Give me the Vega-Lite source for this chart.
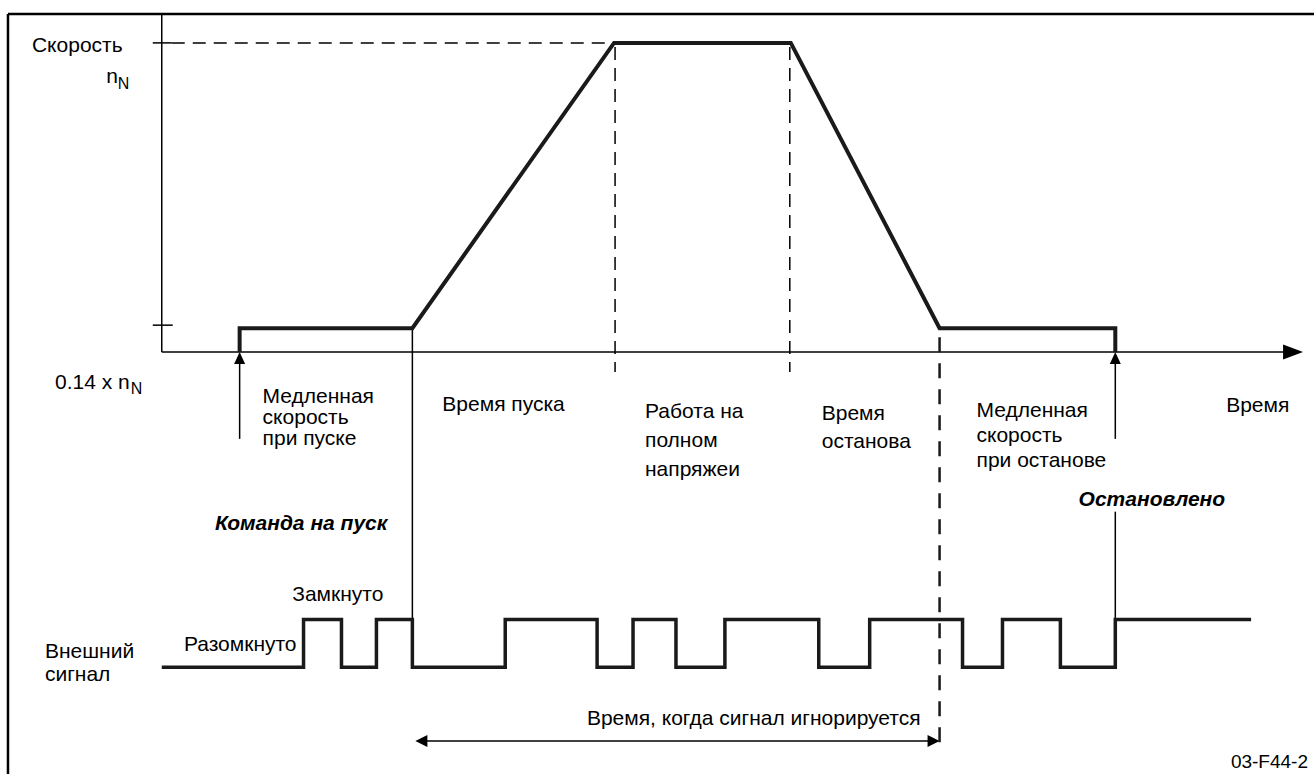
{
  "$schema": "https://vega.github.io/schema/vega-lite/v6.json",
  "width": 1316,
  "height": 776,
  "autosize": {"type": "fit", "contains": "padding"},
  "padding": 0,
  "background": "white",
  "config": {"view": {"stroke": null}, "text": {"font": "Liberation Sans", "color": "black", "baseline": "alphabetic"}},
  "datasets": {
    "segs": [
      {"x": 8, "y": 14, "x2": 1316, "y2": 14, "kind": "frame"},
      {"x": 8, "y": 14, "x2": 8, "y2": 776, "kind": "frame"},
      {"x": 162, "y": 14, "x2": 162, "y2": 353, "kind": "thin"},
      {"x": 162, "y": 353, "x2": 1288, "y2": 353, "kind": "thin"},
      {"x": 153, "y": 43, "x2": 172, "y2": 43, "kind": "thin"},
      {"x": 153, "y": 326, "x2": 173, "y2": 326, "kind": "thin"},
      {"x": 240, "y": 440, "x2": 240, "y2": 362, "kind": "thin"},
      {"x": 1117, "y": 440, "x2": 1117, "y2": 362, "kind": "thin"},
      {"x": 413, "y": 329, "x2": 413, "y2": 621, "kind": "thin"},
      {"x": 1117, "y": 513, "x2": 1117, "y2": 621, "kind": "thin"},
      {"x": 424, "y": 743, "x2": 933, "y2": 743, "kind": "thin"},
      {"x": 172, "y": 43, "x2": 615, "y2": 43, "kind": "dash"},
      {"x": 616, "y": 47, "x2": 616, "y2": 373, "kind": "dash"},
      {"x": 791, "y": 47, "x2": 791, "y2": 373, "kind": "dash"},
      {"x": 941, "y": 338, "x2": 941, "y2": 745, "kind": "bigdash"}
    ],
    "lines": [
      {"series": "speed", "i": 1, "x": 240, "y": 353},
      {"series": "speed", "i": 2, "x": 240, "y": 329},
      {"series": "speed", "i": 3, "x": 413, "y": 329},
      {"series": "speed", "i": 4, "x": 615, "y": 43},
      {"series": "speed", "i": 5, "x": 792, "y": 43},
      {"series": "speed", "i": 6, "x": 941, "y": 329},
      {"series": "speed", "i": 7, "x": 1117, "y": 329},
      {"series": "speed", "i": 8, "x": 1117, "y": 353},
      {"series": "signal", "i": 1, "x": 162, "y": 669},
      {"series": "signal", "i": 2, "x": 304, "y": 669},
      {"series": "signal", "i": 3, "x": 304, "y": 621},
      {"series": "signal", "i": 4, "x": 342, "y": 621},
      {"series": "signal", "i": 5, "x": 342, "y": 669},
      {"series": "signal", "i": 6, "x": 377, "y": 669},
      {"series": "signal", "i": 7, "x": 377, "y": 621},
      {"series": "signal", "i": 8, "x": 413, "y": 621},
      {"series": "signal", "i": 9, "x": 413, "y": 669},
      {"series": "signal", "i": 10, "x": 506, "y": 669},
      {"series": "signal", "i": 11, "x": 506, "y": 621},
      {"series": "signal", "i": 12, "x": 598, "y": 621},
      {"series": "signal", "i": 13, "x": 598, "y": 669},
      {"series": "signal", "i": 14, "x": 634, "y": 669},
      {"series": "signal", "i": 15, "x": 634, "y": 621},
      {"series": "signal", "i": 16, "x": 677, "y": 621},
      {"series": "signal", "i": 17, "x": 677, "y": 669},
      {"series": "signal", "i": 18, "x": 726, "y": 669},
      {"series": "signal", "i": 19, "x": 726, "y": 621},
      {"series": "signal", "i": 20, "x": 820, "y": 621},
      {"series": "signal", "i": 21, "x": 820, "y": 669},
      {"series": "signal", "i": 22, "x": 871, "y": 669},
      {"series": "signal", "i": 23, "x": 871, "y": 621},
      {"series": "signal", "i": 24, "x": 964, "y": 621},
      {"series": "signal", "i": 25, "x": 964, "y": 669},
      {"series": "signal", "i": 26, "x": 1004, "y": 669},
      {"series": "signal", "i": 27, "x": 1004, "y": 621},
      {"series": "signal", "i": 28, "x": 1062, "y": 621},
      {"series": "signal", "i": 29, "x": 1062, "y": 669},
      {"series": "signal", "i": 30, "x": 1117, "y": 669},
      {"series": "signal", "i": 31, "x": 1117, "y": 621},
      {"series": "signal", "i": 32, "x": 1253, "y": 621}
    ],
    "heads": [
      {"kind": "axis", "x": 1295, "y": 353},
      {"kind": "up", "x": 240, "y": 359},
      {"kind": "up", "x": 1117, "y": 359},
      {"kind": "left", "x": 422, "y": 743},
      {"kind": "right", "x": 935, "y": 743}
    ],
    "labels": [
      {"st": "L", "x": 32, "y": 52, "label": "Скорость"},
      {"st": "L", "x": 263, "y": 404, "label": "Медленная"},
      {"st": "L", "x": 263, "y": 425, "label": "скорость"},
      {"st": "L", "x": 263, "y": 446, "label": "при пуске"},
      {"st": "L", "x": 443, "y": 412, "label": "Время пуска"},
      {"st": "L", "x": 646, "y": 419, "label": "Работа на"},
      {"st": "L", "x": 646, "y": 448, "label": "полном"},
      {"st": "L", "x": 646, "y": 477, "label": "напряжеи"},
      {"st": "L", "x": 823, "y": 421, "label": "Время"},
      {"st": "L", "x": 823, "y": 449, "label": "останова"},
      {"st": "L", "x": 978, "y": 418, "label": "Медленная"},
      {"st": "L", "x": 978, "y": 443, "label": "скорость"},
      {"st": "L", "x": 978, "y": 468, "label": "при останове"},
      {"st": "L", "x": 1228, "y": 413, "label": "Время"},
      {"st": "L", "x": 45, "y": 660, "label": "Внешний"},
      {"st": "L", "x": 45, "y": 683, "label": "сигнал"},
      {"st": "R", "x": 118, "y": 83, "label": "n"},
      {"st": "R", "x": 130, "y": 390, "label": "0.14 x n"},
      {"st": "R", "x": 384, "y": 603, "label": "Замкнуто"},
      {"st": "R", "x": 297, "y": 653, "label": "Разомкнуто"},
      {"st": "R", "x": 922, "y": 727, "label": "Время, когда сигнал игнорируется"},
      {"st": "S", "x": 118, "y": 89, "label": "N"},
      {"st": "S", "x": 131, "y": 395, "label": "N"},
      {"st": "BR", "x": 388, "y": 531, "label": "Команда на пуск"},
      {"st": "BR", "x": 1227, "y": 507, "label": "Остановлено"},
      {"st": "C", "x": 1310, "y": 770, "label": "03-F44-2"}
    ]
  },
  "encoding": {
    "x": {"field": "x", "type": "quantitative", "scale": {"domain": [0, 1316], "nice": false, "zero": false}, "axis": null},
    "y": {"field": "y", "type": "quantitative", "scale": {"domain": [0, 776], "nice": false, "zero": false, "reverse": true}, "axis": null}
  },
  "layer": [
    {
      "data": {"name": "segs"},
      "transform": [{"filter": "datum.kind === 'frame'"}],
      "mark": {"type": "rule", "color": "black", "strokeWidth": 2.5},
      "encoding": {"x2": {"field": "x2"}, "y2": {"field": "y2"}}
    },
    {
      "data": {"name": "segs"},
      "transform": [{"filter": "datum.kind === 'thin'"}],
      "mark": {"type": "rule", "color": "black", "strokeWidth": 1.5},
      "encoding": {"x2": {"field": "x2"}, "y2": {"field": "y2"}}
    },
    {
      "data": {"name": "segs"},
      "transform": [{"filter": "datum.kind === 'dash'"}],
      "mark": {"type": "rule", "color": "black", "strokeWidth": 1.5, "strokeDash": [13, 8]},
      "encoding": {"x2": {"field": "x2"}, "y2": {"field": "y2"}}
    },
    {
      "data": {"name": "segs"},
      "transform": [{"filter": "datum.kind === 'bigdash'"}],
      "mark": {"type": "rule", "color": "#1a1a1a", "strokeWidth": 2.5, "strokeDash": [15, 11]},
      "encoding": {"x2": {"field": "x2"}, "y2": {"field": "y2"}}
    },
    {
      "data": {"name": "lines"},
      "transform": [{"filter": "datum.series === 'speed'"}],
      "mark": {"type": "line", "color": "#1a1a1a", "strokeWidth": 4, "strokeJoin": "miter", "strokeCap": "butt"},
      "encoding": {"order": {"field": "i", "type": "quantitative"}}
    },
    {
      "data": {"name": "lines"},
      "transform": [{"filter": "datum.series === 'signal'"}],
      "mark": {"type": "line", "color": "#1a1a1a", "strokeWidth": 3.5, "strokeJoin": "miter", "strokeCap": "butt"},
      "encoding": {"order": {"field": "i", "type": "quantitative"}}
    },
    {
      "data": {"name": "heads"},
      "mark": {"type": "point", "filled": true, "color": "black", "size": 4, "opacity": 1, "strokeWidth": 0},
      "encoding": {
        "shape": {"field": "kind", "type": "nominal", "scale": {"domain": ["axis", "up", "left", "right"], "range": ["M-10,-7.5L10,0L-10,7.5Z", "M0,-6L5.5,6L-5.5,6Z", "M-6,0L6,-6L6,6Z", "M6,0L-6,-6L-6,6Z"]}, "legend": null}
      }
    },
    {
      "data": {"name": "labels"},
      "transform": [{"filter": "datum.st === 'L'"}],
      "mark": {"type": "text", "align": "left", "fontSize": 21},
      "encoding": {"text": {"field": "label", "type": "nominal"}}
    },
    {
      "data": {"name": "labels"},
      "transform": [{"filter": "datum.st === 'R'"}],
      "mark": {"type": "text", "align": "right", "fontSize": 21},
      "encoding": {"text": {"field": "label", "type": "nominal"}}
    },
    {
      "data": {"name": "labels"},
      "transform": [{"filter": "datum.st === 'S'"}],
      "mark": {"type": "text", "align": "left", "fontSize": 16},
      "encoding": {"text": {"field": "label", "type": "nominal"}}
    },
    {
      "data": {"name": "labels"},
      "transform": [{"filter": "datum.st === 'BR'"}],
      "mark": {"type": "text", "align": "right", "fontSize": 21, "fontWeight": "bold", "fontStyle": "italic"},
      "encoding": {"text": {"field": "label", "type": "nominal"}}
    },
    {
      "data": {"name": "labels"},
      "transform": [{"filter": "datum.st === 'C'"}],
      "mark": {"type": "text", "align": "right", "fontSize": 19},
      "encoding": {"text": {"field": "label", "type": "nominal"}}
    }
  ]
}
